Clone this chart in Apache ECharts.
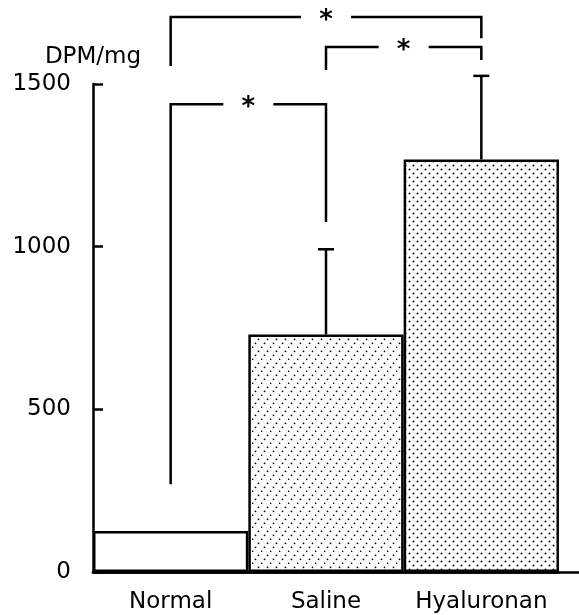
<!DOCTYPE html>
<html><head><meta charset="utf-8">
<script src="https://cdn.jsdelivr.net/npm/echarts@6/dist/echarts.min.js"></script>
<style>html,body{margin:0;padding:0;background:#fff}#c{width:579px;height:615px}</style>
</head><body><div id="c"></div>
<script>
// ---- data ----
const categories = ['Normal', 'Saline', 'Hyaluronan'];
const means = [126, 730, 1268];
const errorTops = [null, 992, 1525];
const yMin = 0, yMax = 1500, yStep = 500;
const yName = 'DPM/mg';
// significance brackets: [left category, right category, bracket level, left drop end, right drop end, label]
const brackets = [
  [0, 1, 1438, 270, 1076, '*'],
  [1, 2, 1614, 1543, 1574, '*'],
  [0, 2, 1706, 1555, 1641, '*']
];

// ---- fill patterns ----
function hatchPattern() {
  const c = document.createElement('canvas');
  c.width = 9; c.height = 12;
  const g = c.getContext('2d');
  g.fillStyle = '#fff'; g.fillRect(0, 0, 9, 12);
  g.fillStyle = '#000';
  [[0.5, 11.3], [3.5, 7.3], [6.5, 3.3]].forEach(p => { g.beginPath(); g.arc(p[0], p[1], 0.9, 0, Math.PI * 2); g.fill(); });
  return { image: c, repeat: 'repeat' };
}
function dotPattern() {
  const c = document.createElement('canvas');
  c.width = 8; c.height = 8;
  const g = c.getContext('2d');
  g.fillStyle = '#fff'; g.fillRect(0, 0, 8, 8);
  g.fillStyle = '#000';
  [[1.5, 1.5], [5.5, 5.5]].forEach(p => { g.beginPath(); g.arc(p[0], p[1], 0.95, 0, Math.PI * 2); g.fill(); });
  return { image: c, repeat: 'repeat' };
}
const fills = ['#ffffff', hatchPattern(), dotPattern()];

const FONT = 'DejaVu Sans';
const LW = 2.5;
const chart = echarts.init(document.getElementById('c'), null, { renderer: 'canvas' });

const barData = means.map((v, i) => ({
  value: v,
  itemStyle: { color: fills[i], borderColor: '#000', borderWidth: LW }
}));
const errData = [];
errorTops.forEach((t, i) => { if (t != null) errData.push([i, means[i], t]); });

chart.setOption({
  animation: false,
  backgroundColor: '#fff',
  grid: [
    { left: 93, right: 20, top: 84, bottom: 43 },
    { left: 93, right: 0, top: 84, bottom: 43 }
  ],
  xAxis: [
    {
      type: 'category', data: categories, gridIndex: 0,
      axisLine: { show: true, lineStyle: { color: '#000', width: LW } },
      axisTick: { show: false },
      axisLabel: { color: '#000', fontSize: 23, fontFamily: FONT, margin: 19, interval: 0, hideOverlap: false },
      splitLine: { show: false }
    },
    {
      type: 'value', gridIndex: 1, min: 0, max: 1,
      axisLine: { show: true, onZero: false, lineStyle: { color: '#000', width: LW } },
      axisTick: { show: false }, axisLabel: { show: false }, splitLine: { show: false }
    }
  ],
  yAxis: [
    {
      type: 'value', gridIndex: 0, min: yMin, max: yMax, interval: yStep,
      name: yName, nameLocation: 'end', nameGap: 15,
      nameTextStyle: { color: '#000', fontSize: 23, fontFamily: FONT },
      axisLine: { show: true, lineStyle: { color: '#000', width: LW } },
      axisTick: { show: true, inside: true, length: 10, lineStyle: { color: '#000', width: LW } },
      axisLabel: { color: '#000', fontSize: 23, fontFamily: FONT, margin: 22, formatter: v => String(v) },
      splitLine: { show: false }
    },
    { type: 'value', gridIndex: 1, min: 0, max: 1, show: false }
  ],
  series: [
    {
      type: 'bar', xAxisIndex: 0, yAxisIndex: 0,
      data: barData, barCategoryGap: '0%', barGap: '0%'
    },
    {
      type: 'custom', xAxisIndex: 0, yAxisIndex: 0, clip: false, z: 5,
      encode: { x: 0, y: [1, 2] },
      data: errData,
      renderItem: function (params, api) {
        const b = api.coord([api.value(0), api.value(1)]);
        const t = api.coord([api.value(0), api.value(2)]);
        const st = { stroke: '#000', lineWidth: LW };
        return { type: 'group', children: [
          { type: 'line', shape: { x1: b[0], y1: b[1], x2: t[0], y2: t[1] }, style: st },
          { type: 'line', shape: { x1: t[0] - 8, y1: t[1], x2: t[0] + 8, y2: t[1] }, style: st }
        ] };
      }
    },
    {
      type: 'custom', xAxisIndex: 0, yAxisIndex: 0, clip: false, z: 5,
      encode: { x: [0, 1], y: [2, 3, 4] },
      data: brackets,
      renderItem: function (params, api) {
        const l = api.value(0), r = api.value(1);
        const pL = api.coord([l, api.value(2)]);
        const pR = api.coord([r, api.value(2)]);
        const pLb = api.coord([l, api.value(3)]);
        const pRb = api.coord([r, api.value(4)]);
        const mid = (pL[0] + pR[0]) / 2;
        const gap = 25;
        const st = { stroke: '#000', lineWidth: LW, fill: null };
        return { type: 'group', children: [
          { type: 'polyline', shape: { points: [pLb, pL, [mid - gap, pL[1]]] }, style: st },
          { type: 'polyline', shape: { points: [[mid + gap, pR[1]], pR, pRb] }, style: st },
          { type: 'text', style: { text: brackets[params.dataIndex][5], x: mid, y: pL[1] + 4,
              align: 'center', verticalAlign: 'middle', fontSize: 26, fontWeight: 'bold', fontFamily: FONT, fill: '#000' } }
        ] };
      }
    }
  ]
});
</script>
</body></html>
